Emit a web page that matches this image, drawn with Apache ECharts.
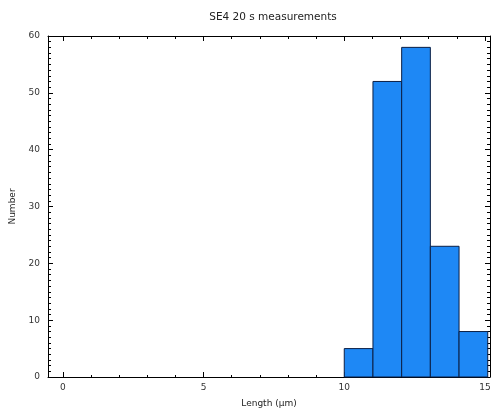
<!DOCTYPE html>
<html>
<head>
<meta charset="utf-8">
<script src="https://cdn.jsdelivr.net/npm/echarts@6/dist/echarts.min.js"></script>
<style>
  html, body { margin: 0; padding: 0; background: #fff; }
  #main { width: 500px; height: 413px; }
</style>
</head>
<body>
<div id="main"></div>
<script>
// histogram data
const binEdges = [10.0, 11.02, 12.04, 13.06, 14.08, 15.1];
const counts = [5, 52, 58, 23, 8];
const xMajor = [0, 5, 10, 15];
const xMinor = [1, 2, 3, 4, 6, 7, 8, 9, 11, 12, 13, 14];

const chart = echarts.init(document.getElementById('main'));
const font = 'DejaVu Sans';
const rect = { left: 48, right: 10, top: 36, bottom: 35 };

const bins = counts.map((c, i) => [binEdges[i], binEdges[i + 1], c]);

function xAx(grid, pos, ticks, len, labels, name) {
  return {
    type: 'value', gridIndex: grid, position: pos,
    min: -0.53, max: 15.18,
    name: name || '', nameLocation: 'middle', nameGap: 22,
    nameTextStyle: { fontFamily: font, fontSize: 9, color: '#222' },
    axisLine: { show: grid === 0, onZero: false, lineStyle: { color: '#000', width: 1 } },
    axisTick: { show: true, inside: true, length: len, customValues: ticks, lineStyle: { color: '#000' } },
    axisLabel: labels ? { show: true, customValues: ticks, fontFamily: font, fontSize: 9, color: '#333', margin: 6 } : { show: false },
    splitLine: { show: false }
  };
}

function yAx(grid, pos, labels, name) {
  return {
    type: 'value', gridIndex: grid, position: pos,
    min: 0, max: 60, interval: 10,
    name: name || '', nameLocation: 'middle', nameGap: 30,
    nameTextStyle: { fontFamily: font, fontSize: 9, color: '#222' },
    axisLine: { show: grid === 0, onZero: false, lineStyle: { color: '#000', width: 1 } },
    axisTick: { show: grid === 0, inside: true, length: 5, lineStyle: { color: '#000' } },
    minorTick: { show: grid === 0, splitNumber: 10, length: 3, lineStyle: { color: '#000' } },
    axisLabel: { show: labels, fontFamily: font, fontSize: 9, color: '#333', margin: 8 },
    splitLine: { show: false }
  };
}

chart.setOption({
  backgroundColor: '#fff',
  animation: false,
  title: {
    text: 'SE4 20 s measurements',
    left: 268, top: 7, textAlign: 'center',
    textStyle: { fontFamily: font, fontSize: 10.5, fontWeight: 'normal', color: '#222' }
  },
  grid: [
    Object.assign({}, rect),
    Object.assign({}, rect)
  ],
  xAxis: [
    xAx(0, 'bottom', xMajor, 5, true, 'Length (µm)'),
    xAx(0, 'top', xMajor, 5, false),
    xAx(1, 'bottom', xMinor, 3, false),
    xAx(1, 'top', xMinor, 3, false)
  ],
  yAxis: [
    yAx(0, 'left', true, 'Number'),
    yAx(0, 'right', false),
    yAx(1, 'left', false),
    yAx(1, 'right', false)
  ],
  series: [{
    type: 'custom',
    xAxisIndex: 0, yAxisIndex: 0,
    data: bins,
    encode: { x: [0, 1], y: 2 },
    renderItem: function (params, api) {
      const p0 = api.coord([api.value(0), api.value(2)]);
      const p1 = api.coord([api.value(1), 0]);
      return {
        type: 'rect',
        shape: { x: p0[0], y: p0[1], width: p1[0] - p0[0], height: p1[1] - p0[1] },
        style: { fill: '#1e88f5', stroke: '#0b1f45', lineWidth: 1 }
      };
    }
  }]
});
</script>
</body>
</html>
